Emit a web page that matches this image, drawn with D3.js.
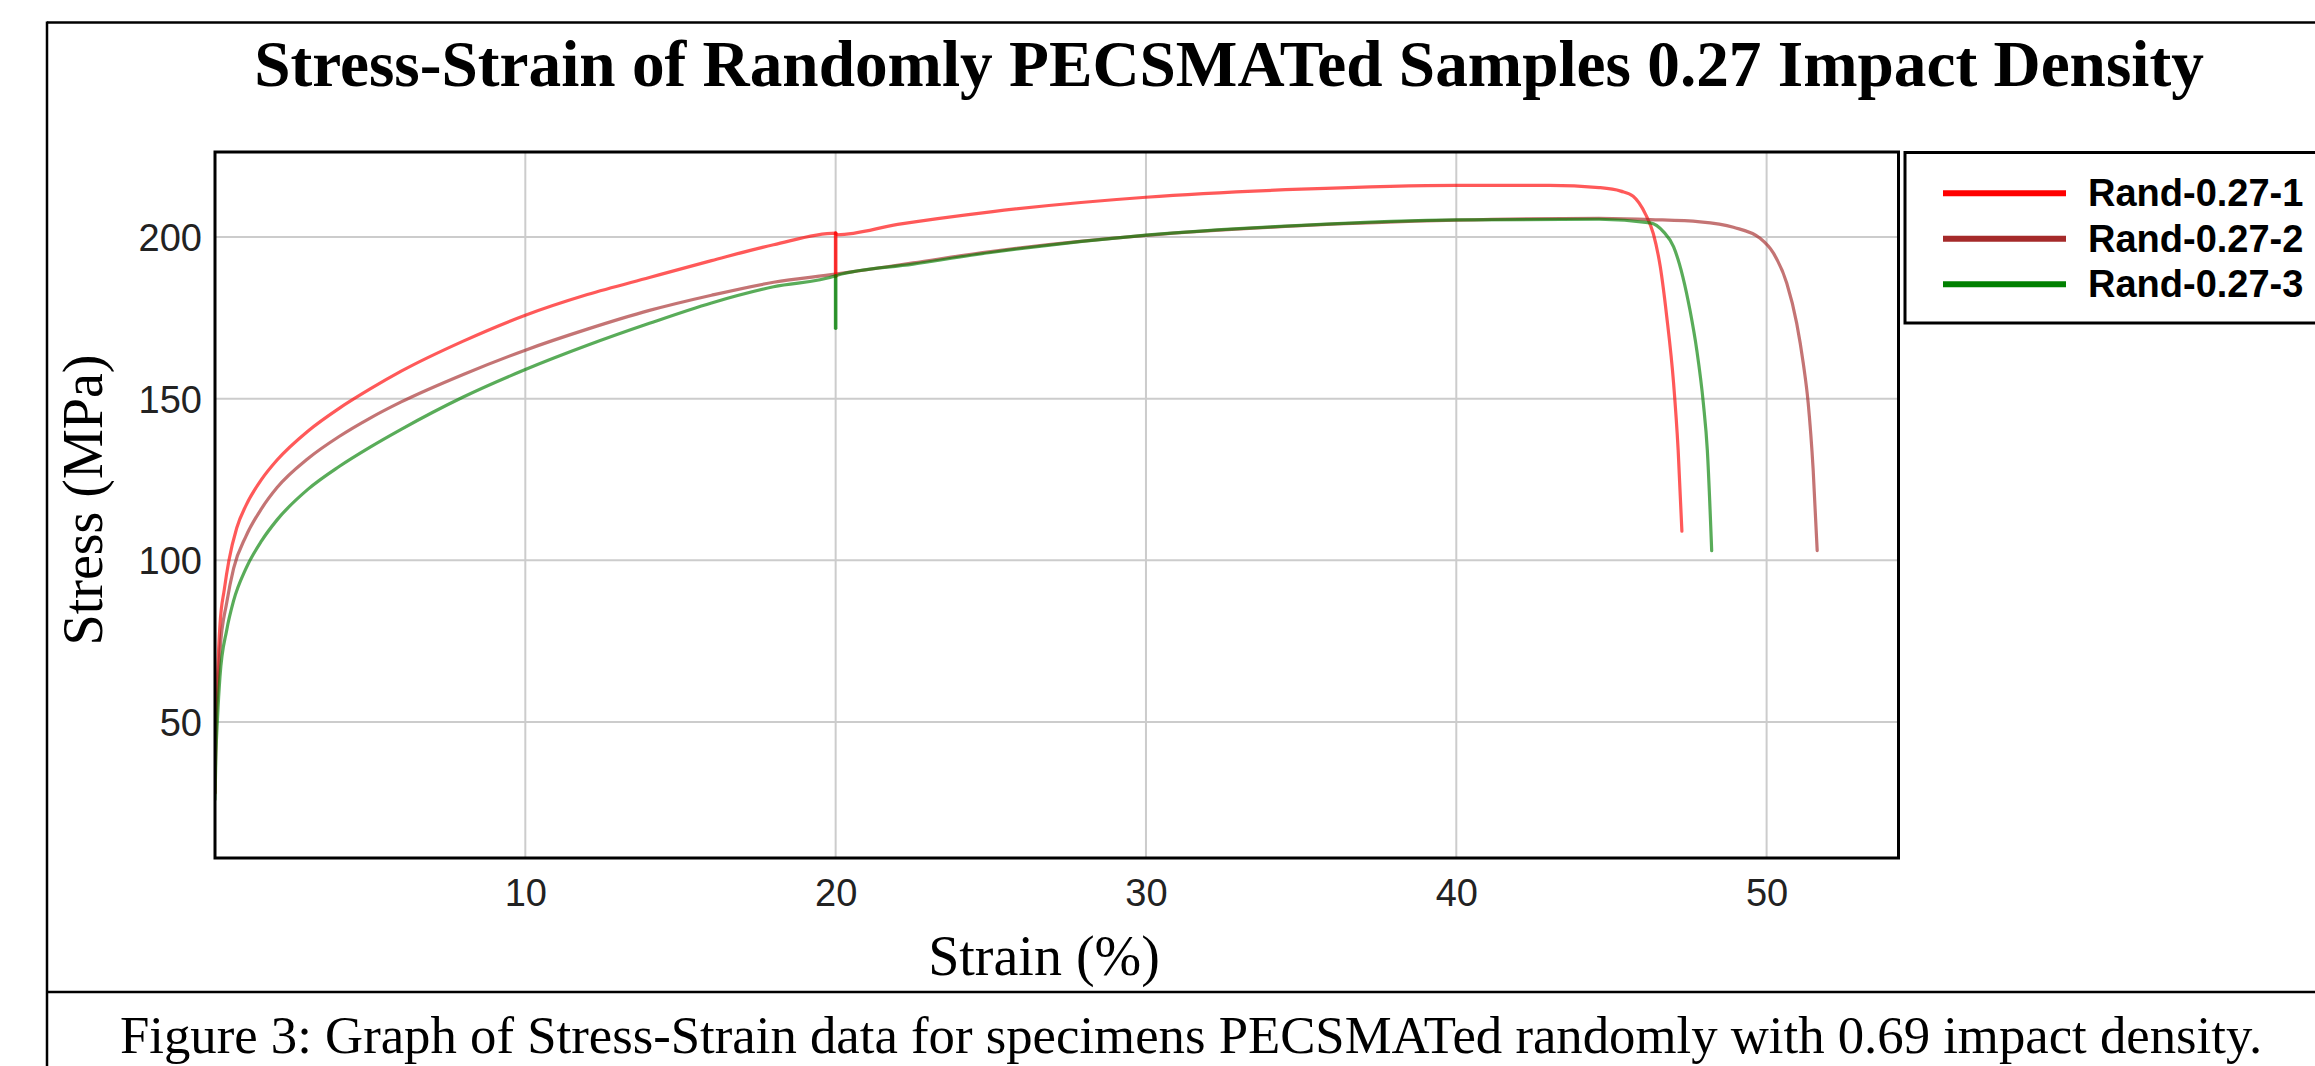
<!DOCTYPE html>
<html>
<head>
<meta charset="utf-8">
<script src="https://cdn.jsdelivr.net/npm/d3@7"></script>
<style>
  html, body { margin: 0; padding: 0; background: #fff; }
  svg { display: block; }
</style>
</head>
<body>
<svg id="chart" width="2315" height="1066"></svg>
<script>
// ---------- data ----------
const titleText = "Stress-Strain of Randomly PECSMATed Samples 0.27 Impact Density";
const xLabel = "Strain (%)";
const yLabel = "Stress (MPa)";
const captionText = "Figure 3: Graph of Stress-Strain data for specimens PECSMATed randomly with 0.69 impact density.";

const seriesNames = ["Rand-0.27-1", "Rand-0.27-2", "Rand-0.27-3"];
const seriesColors = ["#ff0000", "#a52a2a", "#008000"];

const xTicks = [10, 20, 30, 40, 50];
const yTicks = [50, 100, 150, 200];

// [strain %, stress MPa]
const rand1 = [[0,28],[0.03,50],[0.08,64],[0.16,80],[0.3,91],[0.45,100],[0.7,110],[1,117],[1.5,125],[2,131],[3,140],[4,147],[5,153],[6,158.5],[8,167.8],[10,175.8],[12,182.2],[14,187.5],[16,192.7],[18,197.6],[20,201.2],[20.05,200.7],[22,203.9],[25,207.8],[30,212.3],[35,214.8],[40,216],[43,216],[44.6,215.3],[45.3,214.2],[45.7,212.6],[46.1,207],[46.35,201],[46.57,191],[46.78,175.5],[47.0,155],[47.15,134],[47.27,109]];
const rand2 = [[0,28],[0.03,46],[0.08,58],[0.16,72],[0.38,87],[0.6,97.5],[1,107.5],[1.5,116],[2,122.5],[3,131.5],[4,138.3],[5,144],[6,149],[8,157.5],[10,165],[12,171.5],[14,177.3],[16,182],[18,186],[20,188.5],[22.5,192],[25,195.5],[30,200.5],[35,203.5],[40,205.2],[44.6,205.8],[46.25,205.4],[47.86,204.7],[48.93,203],[49.79,199.6],[50.22,195],[50.65,185.7],[50.97,173.3],[51.18,161],[51.34,148.6],[51.5,128],[51.63,103]];
const rand3 = [[0,26],[0.03,40],[0.08,51],[0.16,64],[0.38,78.5],[0.6,87.5],[1,97.5],[1.5,106],[2,112.5],[3,122],[4,129],[5,135],[6,140.5],[8,150.5],[10,159],[12,166.5],[14,173.3],[16,179.6],[18,184.6],[20,188],[20.05,188.2],[22.5,191.6],[25,195.2],[30,200.6],[35,203.6],[40,205.3],[44.6,205.5],[46.25,204.4],[46.68,201.6],[47.0,197],[47.3,187.7],[47.53,177.4],[47.75,165],[47.96,148.7],[48.09,134],[48.23,103]];
// momentary drops at the 20 % strain mark
const rand1Spike = [[20,201.2],[20,187.8]];
const rand2Spike = [];
const rand3Spike = [[20,188],[20,171.8]];

const seriesData = [rand1, rand2, rand3];
const spikeData = [rand1Spike, rand2Spike, rand3Spike];

// ---------- layout ----------
const svg = d3.select("#chart");
const plot = { left: 215, right: 1898.5, top: 152, bottom: 858 };

const x = d3.scaleLinear().domain([0, 54.25]).range([plot.left, plot.right]);
const y = d3.scaleLinear().domain([7.9, 226.3]).range([plot.bottom, plot.top]);

function fitWidth(sel, target) {
  const fs = parseFloat(sel.attr("font-size"));
  const w = sel.node().getComputedTextLength();
  if (w > 0) sel.attr("font-size", (fs * target / w).toFixed(2));
}

// outer frame
svg.append("line").attr("x1", 47).attr("x2", 2320).attr("y1", 22.5).attr("y2", 22.5)
  .attr("stroke", "#000").attr("stroke-width", 2.5);
svg.append("line").attr("x1", 47).attr("x2", 47).attr("y1", 21.5).attr("y2", 1070)
  .attr("stroke", "#000").attr("stroke-width", 2.5);
svg.append("line").attr("x1", 47).attr("x2", 2320).attr("y1", 992).attr("y2", 992)
  .attr("stroke", "#000").attr("stroke-width", 2.5);

// title
const title = svg.append("text")
  .attr("x", 1229).attr("y", 86)
  .attr("text-anchor", "middle")
  .attr("font-family", "'Liberation Serif', 'Times New Roman', serif")
  .attr("font-weight", "bold")
  .attr("font-size", 64)
  .attr("fill", "#000")
  .text(titleText);
fitWidth(title, 1950);

// gridlines
const grid = svg.append("g");
grid.selectAll(".vg").data(xTicks).join("line")
  .attr("x1", d => x(d)).attr("x2", d => x(d))
  .attr("y1", plot.top).attr("y2", plot.bottom)
  .attr("stroke", "#cccccc").attr("stroke-width", 2);
grid.selectAll(".hg").data(yTicks).join("line")
  .attr("x1", plot.left).attr("x2", plot.right)
  .attr("y1", d => y(d)).attr("y2", d => y(d))
  .attr("stroke", "#cccccc").attr("stroke-width", 2);

// axes (labels only, no tick marks)
const xAxis = d3.axisBottom(x).tickValues(xTicks).tickSize(0).tickPadding(0).tickFormat(d3.format("d"));
const gx = svg.append("g").attr("transform", `translate(0,${plot.bottom})`).call(xAxis);
gx.select(".domain").remove();
gx.selectAll("text")
  .attr("font-family", "'Liberation Sans', Arial, sans-serif")
  .attr("font-size", 38)
  .attr("fill", "#222")
  .attr("dy", null)
  .attr("y", 48);

const yAxis = d3.axisLeft(y).tickValues(yTicks).tickSize(0).tickPadding(13).tickFormat(d3.format("d"));
const gy = svg.append("g").attr("transform", `translate(${plot.left},0)`).call(yAxis);
gy.select(".domain").remove();
gy.selectAll("text")
  .attr("font-family", "'Liberation Sans', Arial, sans-serif")
  .attr("font-size", 38)
  .attr("fill", "#222")
  .attr("dy", "0.36em");

// curves
const smoothLine = d3.line()
  .x(d => x(d[0])).y(d => y(d[1]))
  .curve(d3.curveMonotoneX);
const straightLine = d3.line()
  .x(d => x(d[0])).y(d => y(d[1]));

svg.append("clipPath").attr("id", "plotclip").append("rect")
  .attr("x", plot.left).attr("y", plot.top)
  .attr("width", plot.right - plot.left).attr("height", plot.bottom - plot.top);

const curves = svg.append("g").attr("clip-path", "url(#plotclip)");
curves.selectAll("path.s").data(seriesData).join("path")
  .attr("class", "s")
  .attr("d", smoothLine)
  .attr("fill", "none")
  .attr("stroke", (d, i) => seriesColors[i])
  .attr("stroke-opacity", 0.65)
  .attr("stroke-width", 3.2)
  .attr("stroke-linejoin", "round")
  .attr("stroke-linecap", "round");
curves.selectAll("path.k").data(spikeData.map((d, i) => ({ d, i })).filter(o => o.d.length)).join("path")
  .attr("class", "k")
  .attr("d", o => straightLine(o.d))
  .attr("fill", "none")
  .attr("stroke", o => seriesColors[o.i])
  .attr("stroke-opacity", 0.8)
  .attr("stroke-width", 3.6)
  .attr("stroke-linecap", "round");

// plot border
svg.append("rect")
  .attr("x", plot.left).attr("y", plot.top)
  .attr("width", plot.right - plot.left).attr("height", plot.bottom - plot.top)
  .attr("fill", "none").attr("stroke", "#000").attr("stroke-width", 3);

// axis titles
svg.append("text")
  .attr("x", 1044).attr("y", 975)
  .attr("text-anchor", "middle")
  .attr("font-family", "'Liberation Serif', 'Times New Roman', serif")
  .attr("font-size", 56)
  .attr("fill", "#000")
  .text(xLabel);

svg.append("text")
  .attr("transform", "translate(102,500) rotate(-90)")
  .attr("text-anchor", "middle")
  .attr("font-family", "'Liberation Serif', 'Times New Roman', serif")
  .attr("font-size", 56)
  .attr("fill", "#000")
  .text(yLabel);

// legend
svg.append("rect")
  .attr("x", 1905).attr("y", 152.5)
  .attr("width", 500).attr("height", 170.5)
  .attr("fill", "#fff").attr("stroke", "#000").attr("stroke-width", 3);

const legendRowY = d3.scaleLinear().domain([0, 2]).range([193.3, 284.3]);
const lg = svg.append("g").selectAll("g").data(seriesNames).join("g");
lg.append("line")
  .attr("x1", 1943).attr("x2", 2066)
  .attr("y1", (d, i) => legendRowY(i)).attr("y2", (d, i) => legendRowY(i))
  .attr("stroke", (d, i) => seriesColors[i])
  .attr("stroke-width", 6);
lg.append("text")
  .attr("x", 2088)
  .attr("y", (d, i) => legendRowY(i) + 13)
  .attr("font-family", "'Liberation Sans', Arial, sans-serif")
  .attr("font-weight", "bold")
  .attr("font-size", 38)
  .attr("fill", "#000")
  .text(d => d);

// caption
const cap = svg.append("text")
  .attr("x", 1191).attr("y", 1053)
  .attr("text-anchor", "middle")
  .attr("font-family", "'Liberation Serif', 'Times New Roman', serif")
  .attr("font-size", 53)
  .attr("fill", "#000")
  .text(captionText);
fitWidth(cap, 2142);
</script>
</body>
</html>
